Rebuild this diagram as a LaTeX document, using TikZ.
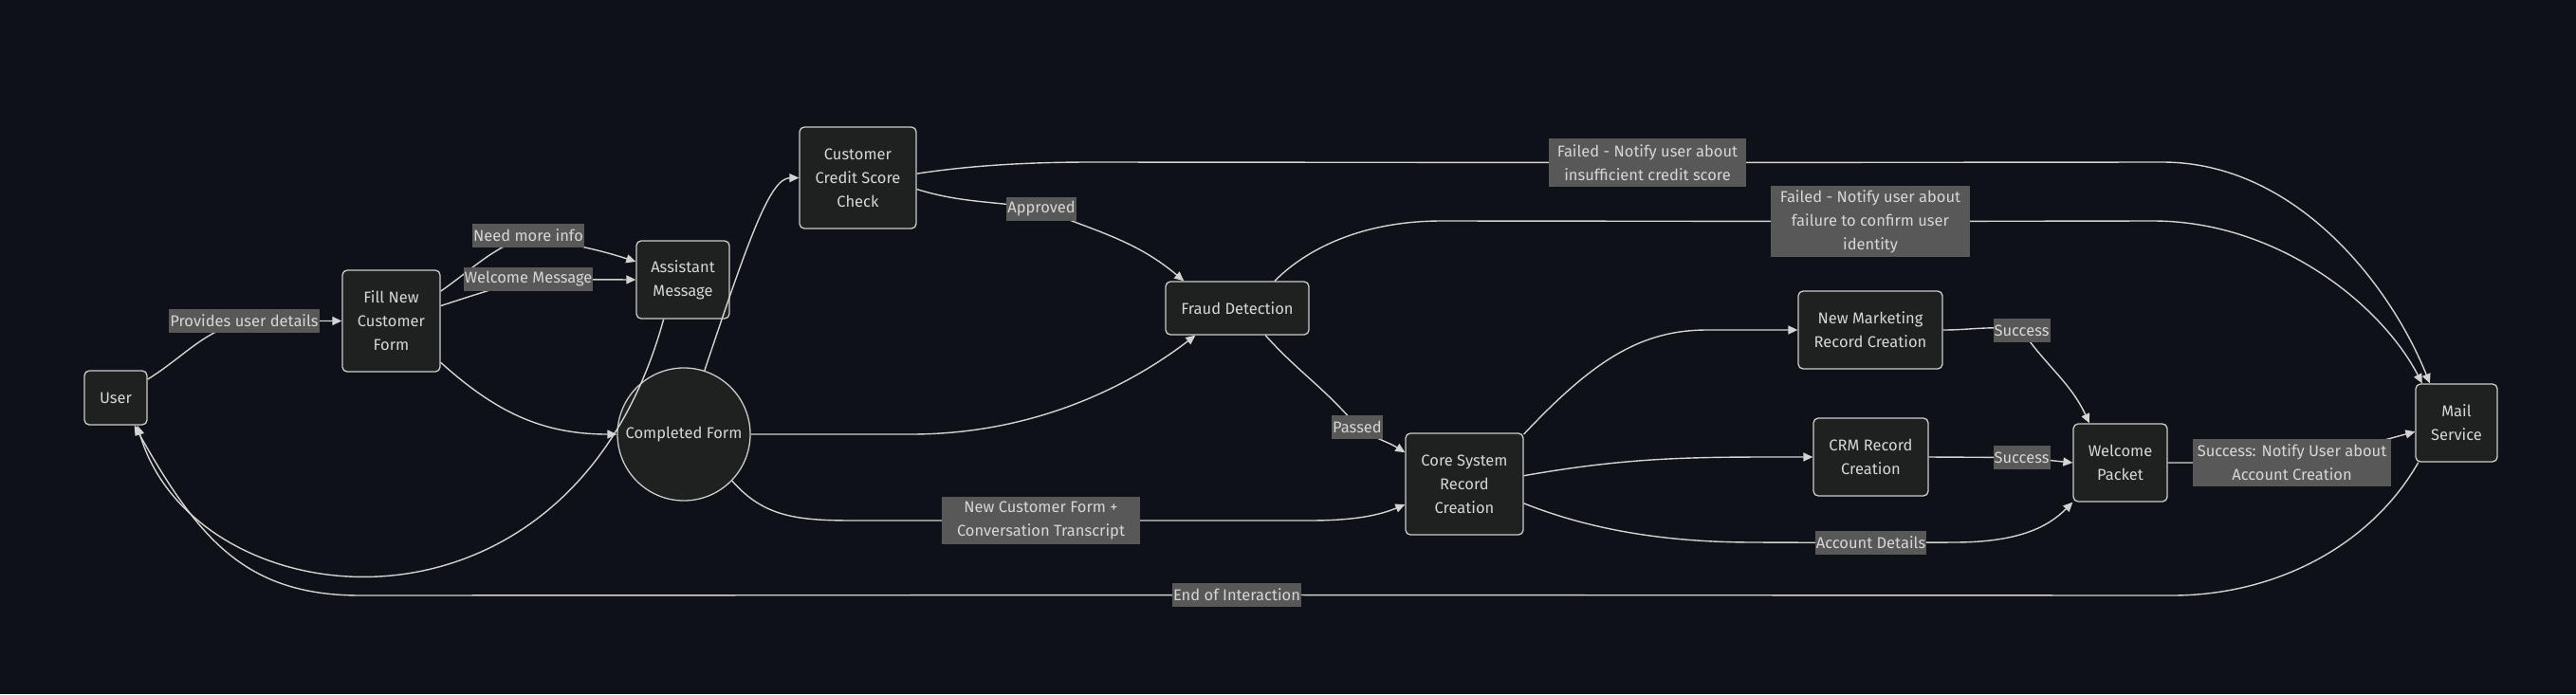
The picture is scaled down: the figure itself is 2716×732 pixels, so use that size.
\documentclass[tikz,border=0pt]{standalone}
\usepackage{fontspec}
\setmainfont{Fira Sans}
\usetikzlibrary{arrows.meta}
\definecolor{bgc}{HTML}{0E1117}
\definecolor{nodefill}{HTML}{1F2020}
\definecolor{nodeline}{HTML}{CCCCCC}
\definecolor{lblfill}{HTML}{585858}
\definecolor{txt}{HTML}{D6D6D6}
\definecolor{linec}{HTML}{D3D3D3}
\pgfdeclarelayer{fg}
\pgfsetlayers{main,fg}
\begin{document}
\begin{tikzpicture}[x=1pt,y=1pt,
  box/.style={draw=nodeline, fill=nodefill, rounded corners=5pt, line width=1.3pt,
    text=txt, align=center, inner sep=0pt, font=\fontsize{16.5}{25}\selectfont},
  roundbox/.style={draw=nodeline, fill=nodefill, circle, line width=1.3pt,
    text=txt, align=center, inner sep=0pt, font=\fontsize{16.5}{25}\selectfont},
  lbl/.style={fill=lblfill, text=txt, align=center, inner xsep=1pt, inner ysep=0pt,
    minimum height=25pt, font=\fontsize{16.5}{25}\selectfont},
  edge/.style={draw=linec, line width=1.4pt, -{Triangle[length=10pt,width=9pt]}}]

\fill[bgc] (0,0) rectangle (2716,-732);
\useasboundingbox (0,0) rectangle (2716,-732);

% main nodes
\node[box, minimum width=66pt, minimum height=57pt] (u) at (122,-419.5) {User};
\node[box, minimum width=103pt, minimum height=107pt] (f) at (412.5,-338.5) {Fill New\\Customer\\Form};
\node[box, minimum width=98pt, minimum height=82pt] (a) at (720,-295) {Assistant\\Message};
\node[box, minimum width=123pt, minimum height=107pt] (cs) at (904.5,-187.5) {Customer\\Credit Score\\Check};
\node[roundbox, minimum size=140pt] (cf) at (721,-458) {Completed Form};
\node[box, minimum width=151pt, minimum height=56pt] (fd) at (1304.5,-325) {Fraud Detection};
\node[box, minimum width=124pt, minimum height=107pt] (core) at (1544,-510.5) {Core System\\Record\\Creation};
\node[box, minimum width=152pt, minimum height=82pt] (mk) at (1972,-348) {New Marketing\\Record Creation};
\node[box, minimum width=121pt, minimum height=82pt] (crm) at (1972.5,-482) {CRM Record\\Creation};
\node[box, minimum width=99pt, minimum height=82pt] (wp) at (2235.5,-488) {Welcome\\Packet};
\node[box, minimum width=86pt, minimum height=82pt] (ms) at (2590,-446) {Mail\\Service};

% edge labels (drawn on top layer)
\begin{pgfonlayer}{fg}
\node[lbl, minimum width=155pt] (l1) at (257.5,-338.5) {Provides user details};
\node[lbl, minimum width=116pt] (l2) at (557,-248.5) {Need more info};
\node[lbl, minimum width=134pt] (l3) at (557,-294.5) {Welcome Message};
\node[lbl, minimum width=70pt] (l4) at (1098,-220.5) {Approved};
\node[lbl, minimum width=208pt, minimum height=51pt] (l5) at (1737,-171.5) {Failed - Notify user about\\insufficient credit score};
\node[lbl, minimum width=210pt, minimum height=75pt] (l6) at (1972,-233.5) {Failed - Notify user about\\failure to confirm user\\identity};
\node[lbl, minimum width=49pt] (l7) at (1431,-450) {Passed};
\node[lbl, minimum width=209pt, minimum height=50pt] (l8) at (1097.5,-549) {New Customer Form +\\Conversation Transcript};
\node[lbl, minimum width=57pt] (l9) at (2131.5,-348.5) {Success};
\node[lbl, minimum width=57pt] (l10) at (2131.5,-482.5) {Success};
\node[lbl, minimum width=117pt] (l11) at (1972.5,-572.5) {Account Details};
\node[lbl, minimum width=209pt, minimum height=50pt] (l12) at (2416.5,-488) {Success: Notify User about\\Account Creation};
\node[lbl, minimum width=136pt] (l13) at (1304,-627.5) {End of Interaction};
\end{pgfonlayer}

% connectors
\draw[edge] (u.30) to[out=32,in=195] (l1.center) -- (f.west);
\draw[edge] (f.31) to[out=35,in=200] (l2.center) to[out=-12,in=162] (a.159);
\draw[edge] (f.17) to[out=18,in=195] (l3.center) -- (a.west);
\draw[edge] (f.-40) to[out=-42,in=180] (cf.west);
\draw[edge] (a.-116) .. controls (600,-700) and (205,-655) .. (u.-52);
\draw[edge] (cf.72) .. controls (790,-250) and (812,-188) .. (cs.west);
\draw[edge] (cs.-11) to[out=-17,in=170] (l4.center) to[out=-22,in=140] (fd.153);
\draw[edge] (cs.4) .. controls (1020,-175) and (1080,-171) .. (1150,-171) -- (l5.center) -- (2280,-171) .. controls (2420,-171) and (2520,-300) .. (ms.124);
\draw[edge] (cf.east) -- (960,-458) .. controls (1100,-458) and (1200,-400) .. (fd.-147);
\draw[edge] (fd.36) .. controls (1380,-260) and (1440,-233) .. (1520,-233) -- (l6.center) -- (2270,-233) .. controls (2400,-233) and (2510,-320) .. (ms.131);
\draw[edge] (fd.-44) to[out=-48,in=130] (l7.center) to[out=-35,in=148] (core.152);
\draw[edge] (cf.-44) .. controls (805,-545) and (840,-549) .. (900,-549) -- (l8.center) -- (1380,-549) .. controls (1430,-549) and (1455,-543) .. (core.-161);
\draw[edge] (core.40) .. controls (1680,-380) and (1730,-348) .. (1800,-348) -- (mk.west);
\draw[edge] (core.8) to[out=10,in=180] (crm.west);
\draw[edge] (core.-18) .. controls (1680,-560) and (1760,-572) .. (1850,-572) -- (l11.center) -- (2060,-572) .. controls (2130,-572) and (2160,-555) .. (wp.south west);
\draw[edge] (mk.east) to[out=0,in=170] (l9.center) to[out=-55,in=115] (wp.128);
\draw[edge] (crm.east) -- (l10.center) -- (wp.west);
\draw[edge] (wp.east) -- (l12.center) to[out=12,in=195] (ms.192);
\draw[edge] (ms.-134) .. controls (2500,-575) and (2400,-628) .. (2290,-628) -- (l13.center) -- (380,-628) .. controls (260,-628) and (210,-570) .. (u.-56);

\end{tikzpicture}
\end{document}
